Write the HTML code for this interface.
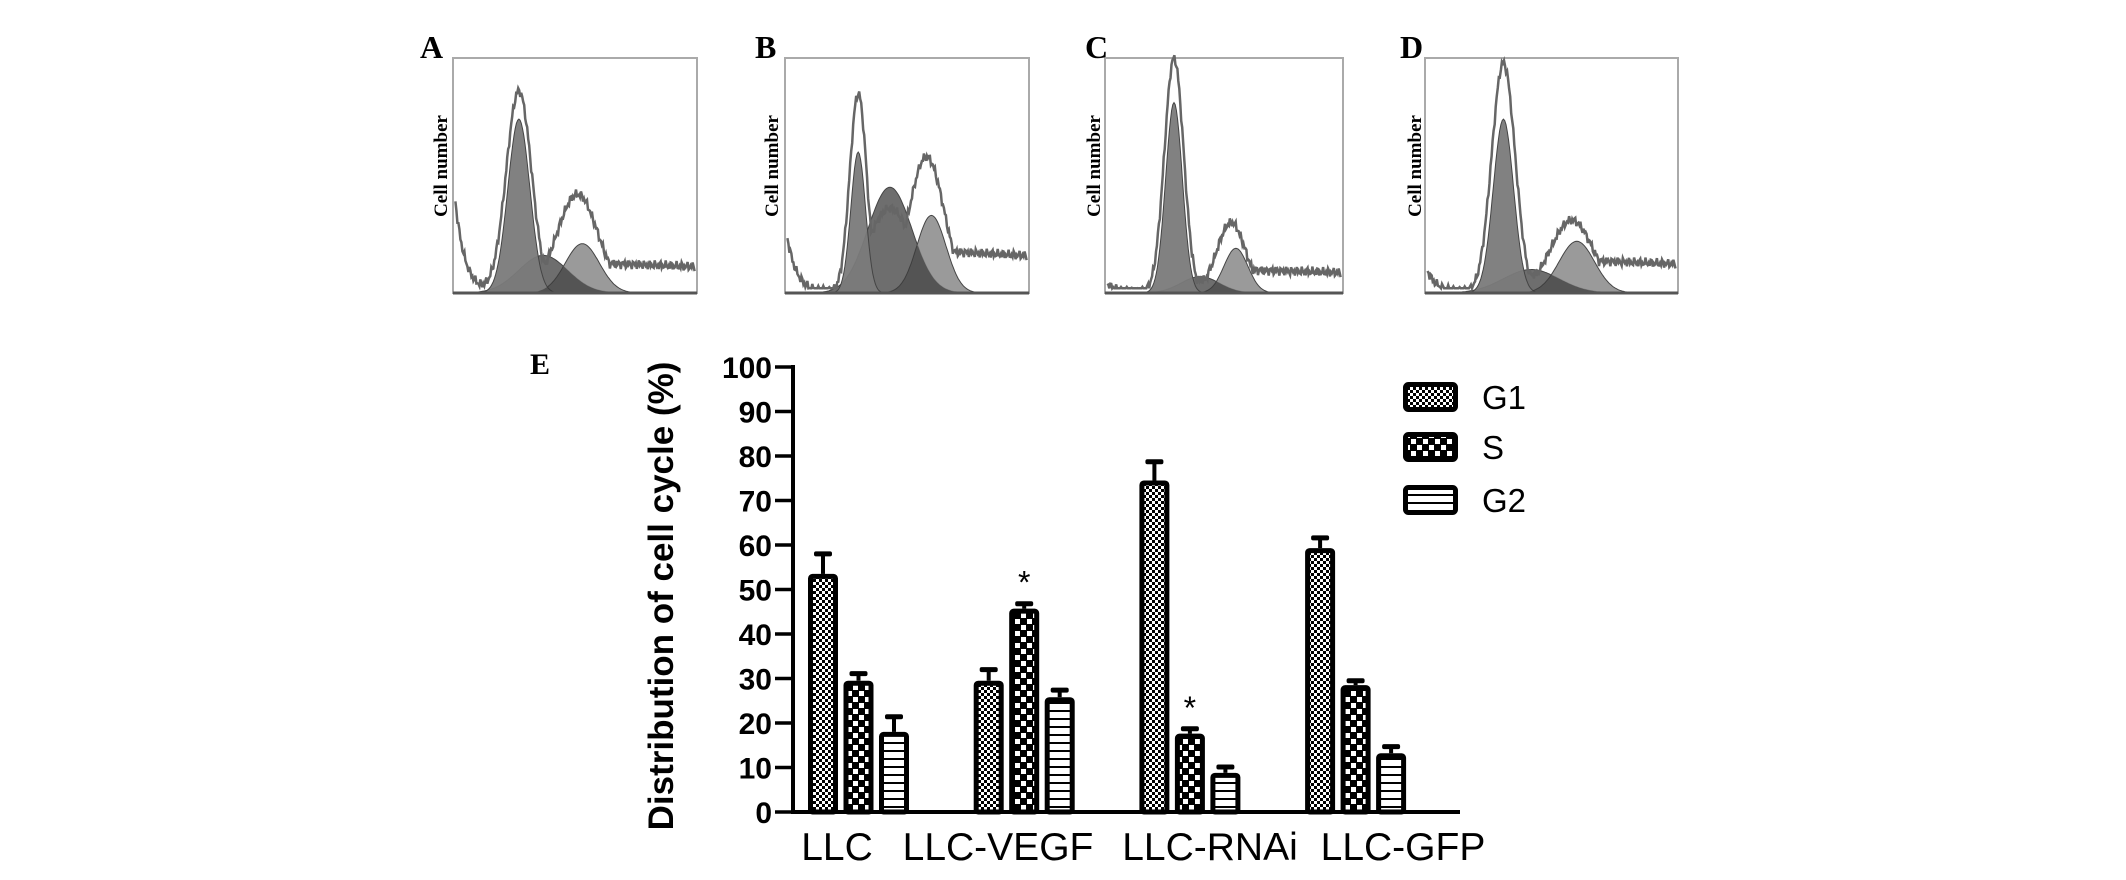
<!DOCTYPE html>
<html><head><meta charset="utf-8">
<style>
html,body{margin:0;padding:0;background:#fff;}
svg{display:block;}
</style></head>
<body>
<svg id="fig" width="2126" height="880" viewBox="0 0 2126 880" xmlns="http://www.w3.org/2000/svg">
<defs>
<pattern id="patG1" width="6" height="6" patternUnits="userSpaceOnUse">
<rect width="6" height="6" fill="#fff"/><rect width="3" height="3" fill="#000"/><rect x="3" y="3" width="3" height="3" fill="#000"/>
</pattern>
<pattern id="patS" width="12" height="12" patternUnits="userSpaceOnUse">
<rect width="12" height="12" fill="#000"/><rect x="1" y="1" width="5" height="5" fill="#fff"/><rect x="7" y="7" width="5" height="5" fill="#fff"/>
</pattern>
<pattern id="patG2" width="10" height="8" patternUnits="userSpaceOnUse">
<rect width="10" height="8" fill="#fff"/><rect y="6" width="10" height="2" fill="#000"/>
</pattern>
</defs>
<g id="hist"></g>
<g id="bars"></g>
</svg>
<script>
// ---- Bar chart data ----
const categories = ["LLC","LLC-VEGF","LLC-RNAi","LLC-GFP"];
const seriesNames = ["G1","S","G2"];
const g1Values = [53.5, 29.5, 74.5, 59.3];
const sValues  = [29.5, 45.7, 17.6, 28.5];
const g2Values = [18, 25.8, 8.8, 13.2];
const g1Err = [4.5, 2.5, 4.2, 2.3];
const sErr  = [1.6, 1.1, 1.1, 1.0];
const g2Err = [3.4, 1.6, 1.3, 1.5];
const yTicks = [0,10,20,30,40,50,60,70,80,90,100];
const sigMarks = [[1,1],[2,1]]; // [category index, series index]

const NS = "http://www.w3.org/2000/svg";
function mk(tag, attrs, parent){const e=document.createElementNS(NS,tag);for(const k in attrs)e.setAttribute(k,attrs[k]);parent.appendChild(e);return e;}

const bars = document.getElementById('bars');
const x0 = 793, y0 = 812, yTop = 367, xEnd = 1460;
const yScale = v => y0 - (v/100)*(y0-yTop);
const groupStart = i => 808 + i*165.7;
const barX = (i,s) => groupStart(i) + s*35.5;
const barW = 30;

let e;
e = mk('line',{x1:x0,y1:yTop-2,x2:x0,y2:y0+2,stroke:'#000','stroke-width':4},bars);


e = mk('line',{x1:x0-2,y1:y0,x2:xEnd,y2:y0,stroke:'#000','stroke-width':4},bars);


yTicks.forEach(t=>{
  const y=yScale(t);
  let l=mk('line',{x1:775,y1:y,x2:x0,y2:y,stroke:'#000','stroke-width':3.5},bars);
  
  
  let tx=mk('text',{x:772,y:y+11,'text-anchor':'end','font-family':'Liberation Sans, sans-serif','font-weight':'bold','font-size':30},bars);
  tx.textContent=t;
  
  
});
e = mk('text',{x:0,y:0,transform:'translate(673,596) rotate(-90)','text-anchor':'middle','font-family':'Liberation Sans, sans-serif','font-weight':'bold','font-size':35},bars);
e.textContent='Distribution of cell cycle (%)';



const labelX = [837, 998, 1210, 1403];
categories.forEach((c,i)=>{
  const t=mk('text',{x:labelX[i],y:860,'text-anchor':'middle','font-family':'Liberation Sans, sans-serif','font-size':39},bars);
  t.textContent=c;
  
  
});

const allVals=[g1Values,sValues,g2Values], allErr=[g1Err,sErr,g2Err], pats=['url(#patG1)','url(#patS)','url(#patG2)'];
categories.forEach((c,i)=>{
  allVals.forEach((vals,s)=>{
    const x=barX(i,s), v=vals[i], y=yScale(v), er=allErr[s][i];
    const ye=yScale(v+er);
    const el=mk('line',{x1:x+barW/2,y1:ye,x2:x+barW/2,y2:y,stroke:'#000','stroke-width':4},bars);
    
    
    const ec=mk('rect',{x:x+barW/2-9,y:ye-2.5,width:18,height:5,rx:2,fill:'#000'},bars);
    
    
    const r=mk('rect',{x:x+2.5,y:y+2.5,width:barW-5,height:y0-y-2.5,fill:pats[s],stroke:'#000','stroke-width':5,rx:2},bars);
    
    
  });
});
sigMarks.forEach(m=>{
  const [i,s]=m; const v=allVals[s][i]+allErr[s][i];
  const t=mk('text',{x:barX(i,s)+barW/2,y:yScale(v)-10,'text-anchor':'middle','font-family':'Liberation Sans, sans-serif','font-size':32},bars);
  t.textContent='*';
  
  
});
const legY=[382,432,485];
seriesNames.forEach((n,s)=>{
  const r=mk('rect',{x:1405.5,y:legY[s]+2.5,width:50,height:25,fill:pats[s],stroke:'#000','stroke-width':5,rx:3},bars);
  
  
  const t=mk('text',{x:1482,y:legY[s]+27,'font-family':'Liberation Sans, sans-serif','font-size':33},bars);
  t.textContent=n;
  
  
});
e=mk('text',{x:530,y:374,'font-family':'Liberation Serif, serif','font-weight':'bold','font-size':30},bars);
e.textContent='E';



// ---- Histogram panels (decorative flow cytometry plots) ----
const hist=document.getElementById('hist');
const panelLetters=["A","B","C","D"];
const boxL=[453,785,1105,1425], boxR=[697,1029,1343,1678], letterX=[420,755,1085,1400], cellX=[440,771,1093,1414];
const g1P=[[0.27,0.74,0.045],[0.30,0.60,0.03],[0.29,0.81,0.035],[0.31,0.74,0.04]];
const sP =[[0.37,0.16,0.10],[0.43,0.45,0.09],[0.40,0.07,0.08],[0.42,0.10,0.11]];
const g2P=[[0.53,0.21,0.07],[0.60,0.33,0.06],[0.55,0.19,0.05],[0.60,0.22,0.07]];
const envG1=[0.86,0.85,1.0,0.98], envG2=[0.42,0.58,0.30,0.31], tailV=[0.13,0.18,0.10,0.14], leftV=[0.5,0.3,0.05,0.12];
const gy=(x,p)=>p[1]*Math.exp(-0.5*Math.pow((x-p[0])/p[2],2));
const bTop=58, bBot=293;
panelLetters.forEach((L,i)=>{
  const g=mk('g',{},hist);
  
  
  const W=boxR[i]-boxL[i], H=bBot-bTop;
  const px=f=>boxL[i]+f*W, py=f=>bBot-f*H;
  let r=mk('rect',{x:boxL[i],y:bTop,width:W,height:H,fill:'none',stroke:'#aaa','stroke-width':2},g);
  
  
  const comps=[[sP[i],'#555',0.85],[g2P[i],'#888',0.85],[g1P[i],'#7a7a7a',0.95]];
  comps.forEach(([p,col,op])=>{
    let d='M'+px(0)+','+bBot;
    for(let k=0;k<=200;k++){const f=k/200;d+=' L'+px(f).toFixed(1)+','+py(gy(f,p)).toFixed(1);}
    d+=' L'+px(1)+','+bBot+' Z';
    const pa=mk('path',{d:d,fill:col,'fill-opacity':op,stroke:'#444','stroke-width':1},g);
    
    
  });
  let d='';
  for(let k=0;k<=200;k++){const f=k/200;const v=Math.min(gy(f,sP[i]),gy(f,g2P[i]));d+=(k?' L':'M')+px(f).toFixed(1)+','+py(v).toFixed(1);}
  let ov=mk('path',{d:d+' Z',fill:'#333','fill-opacity':0.6},g);
  
  
  const g1e=[g1P[i][0],envG1[i],g1P[i][2]*1.15], g2e=[g2P[i][0]-0.02,envG2[i],g2P[i][2]*1.2];
  let d2='';
  for(let k=0;k<=240;k++){const f=0.01+0.98*k/240;
    let v=Math.max(gy(f,g1e),gy(f,g2e), 0.8*gy(f,sP[i]));
    const tail=f>g2P[i][0]?tailV[i]*(1-0.3*(f-g2P[i][0])):0;
    const left=leftV[i]*Math.exp(-f/0.04);
    v=Math.max(v,tail)+left+0.012*Math.sin(k*2.3)+0.01*Math.sin(k*5.1);
    d2+=(k?' L':'M')+px(f).toFixed(1)+','+py(Math.max(0.02,v)).toFixed(1);}
  let en=mk('path',{d:d2,fill:'none',stroke:'#666','stroke-width':2.5},g);
  
  
  let bl=mk('line',{x1:boxL[i],y1:bBot,x2:boxR[i],y2:bBot,stroke:'#555','stroke-width':3},g);
  
  
  let t=mk('text',{x:letterX[i],y:58,'font-family':'Liberation Serif, serif','font-weight':'bold','font-size':32},g);
  t.textContent=L;
  
  
  let c=mk('text',{x:0,y:0,transform:'translate('+(cellX[i]+7)+',166) rotate(-90)','text-anchor':'middle','font-family':'Liberation Serif, serif','font-weight':'bold','font-size':19},g);
  c.textContent='Cell number';
  
  
});
</script>
</body></html>
